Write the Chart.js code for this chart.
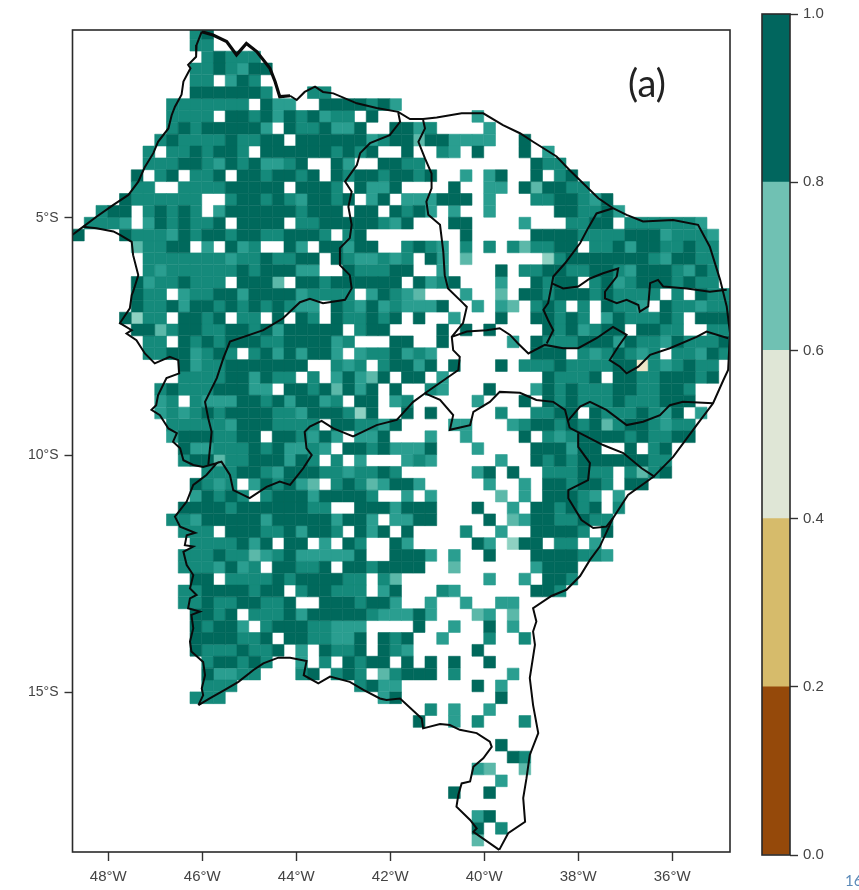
<!DOCTYPE html>
<html>
<head>
<meta charset="utf-8">
<title>Map (a)</title>
<script src="https://cdn.jsdelivr.net/npm/chart.js@4"></script>
<style>
  html, body { margin: 0; padding: 0; background: #fff; width: 859px; height: 890px; overflow: hidden; }
  canvas { position: absolute; top: 0; filter: blur(0.5px); }
  #map { left: 0; }
  #bar { left: 750px; }
  #panel { position: absolute; left: 628px; top: 59px; font: 38px Lato, sans-serif; color: #222; }
  #page { position: absolute; left: 845px; top: 871px; font: 15px Lato, sans-serif; color: #5b8ab8; }
</style>
</head>
<body>
<canvas id="map" width="859" height="890"></canvas>
<canvas id="bar" width="109" height="890"></canvas>
<div id="panel">(a)</div>
<div id="page">16</div>
<script>
// grid cells, one string per row (north to south), a char per 0.25 deg cell, blocks of 10 columns
const cellRows = [
  ".......... md",
  ".......... mm",
  ".......... .mdmmm",
  ".......... mmdmtdd",
  ".......... mm.tdm.",
  ".......... ddddddm... mm",
  "........mm mmmmm.dtt. .ddddmdt",
  "........mm mm.ddmdtdm dtmm.d.... ....t",
  "........md mdddddt.dm mdttd..ddt m....t",
  ".......mdm mmmdmmdd.d dddddtmddl ddtttt..d.",
  "......m.mm dmddm.dddd ddmdmd..d. .mt.d...d. t",
  "......mmmd dmtdmdttmd ..dt..ddmm .........d mm",
  ".....d.md. mmd.ddmddm d.dmddmddm d..t.td..d .md",
  ".....mm..m mmmddddd.d ddm.dttd.. ..d..tt.dl ddmm",
  "....dmmmmm m..mddmdmt ddmd.td.tt tddd.t...m mddmtd",
  "..mdd.mdmd m.tddddddm ddd.dd.dmd t.t..t.... .ddmmdt",
  ".mmmt.tdmd mmd.dddd.m mdddddmtd. ..dd....t. ..mmdd.mmm mmmt",
  "d...dmmmtd mddmddmmdd dm.md..... ...d.....d dddmmmmddd tmmmt",
  ".....lmmdd .t.dtm..dt .ddtdd..md mt.m.m.mlm mdd.mmdtdd mmdmm",
  "......mmmm mmmtmmdmmd d.dmttmtm. dt.l...... pmdddddddm tddmm",
  "......mtmm mmmmdmdddt t..dmmmdd. .t....d.mm ddmmddmtdd dmtdm",
  ".....dtmmd mmm.dddl.d dmdddddd.d tmd...t..d mdd.mdtmdd dmdmm",
  ".....dmm.t mmddtddddt mmmm.tdmtl ...t..l.dd mdddmdmmmm .m.dmm",
  ".....dmmdt ddmdmdmdmt t.dmtdtmtt td..t.tl.m dm.m.dmmt. dmmtmm",
  "....dpmm.d dmd.mm.d.d m.dmmdmd.d ..t...d..d dmdm.tdmmm dm.ddd",
  ".....ddlmd dmmddmdtdd ddd.mdd... .d.d.d.... dmdtmdd.dd mm..mm",
  "......mm.d mdmdddmmdd ddtm...dd. .d.....t.d mmmdddtdmm tdmmmd",
  "......mmdd tmdm.mdtdt ddt.tmmdtm t........d dd.mtmdmtm .mmtdm",
  ".........d tmmddddddd ..mtm.mddt d.d...d.mm mdmmmmddcm tmdmm",
  ".........m mmmddtdmm. m.tdtld.dd .t........ dmmmd.ddmm dddmd",
  ".......mdm mmdddtt.dd mdldtd.d.. mt...d...t dmdmmmddmm ddm",
  ".......tm. mtttddmdtd dtm.dd.tm. ....t...d. dmdmmmdmmm ddd",
  ".......tmt mdmddddmmt dddmpd..d. d.....m..m mdd.dmmmdm td.t",
  "........mm mmmtdddmmm m.ddmmtd.. ..tt...tmd dmdmdlmddm tmm",
  "........td ddmmdd.ddm tdt.ttd... t..t....d. mtmddddmdm mdd",
  ".........d ttmmmdmdtt mt.ddmdttt d...t....d ddtdd..d.m d.",
  ".........m ddlmmdddtd m.m.t...tm t.....t..d mdmddddddm m",
  ".......... .mmmddmtdd dmmtmmdm.. ....td.d.. mmmdmm.mlm d",
  ".......... dmtm.tdmdt l.mdmltddt .....t..t. ddmddm.dd",
  ".......... tdmdm.mddd tddddm..t. t.....l.t. dddmt.t",
  ".........d dddmdddddd mm..dddtdd d...d..t.d dmdmd.m",
  "........mm tdddddtddd ddtddt.ttd d....d.ltd dmmdmm",
  ".........m mm.dddmmdt ddm.dtd.d. ...m..t..d dddm.d",
  ".......... mmmmdtd.dd .t.dm..dt. ....dt.pdd .mm.t",
  ".........m mmdmmltmdt ttttd..ddd t.t..d...d dddmmt",
  ".........m mmtdtm.ddm md.ddmdddd ..l......t ddd",
  ".......... dd.mmmmdmd dddmm.ml.. .....t..t. ddm",
  ".........m mddddmdd.m ddmmm.td.. .mt......d dm",
  ".........m mdmmddmmd. .dddmddt.. t..t..tt",
  ".......... ddmd.mmmdt dddddmtttd t...lt.l",
  ".......... dmddt.mddd mmttt....d ..t..d.t",
  ".......... ddddmmd.dd mmttd.dmd. .t...m..m",
  ".......... dmmmdmmd.t .dmmd.dmt. ....d",
  ".......... .mddmdm..t .m.dmdd.d. d.d..d",
  ".......... .dttmm...m d.mdm.lmdd d.m....t",
  ".......... .mmm...... ....mdtt.. ....d.t",
  ".......... mmm....... ......td.. ......d",
  ".......... .......... .......... m.t..t",
  ".......... .......... .........d ..t.m...m",
  "",
  ".......... .......... .......... ......d",
  ".......... .......... .......... .......dm",
  ".......... .......... .......... ....tl..l",
  ".......... .......... .......... ......t",
  ".......... .......... .......... ..d..d",
  "",
  ".......... .......... .......... ....td",
  ".......... .......... .......... ....d.m",
  ".......... .......... .......... ....l"
];
const firstCellLon = -48.76;
const firstCellLat = -0.99;
const cellStep = 0.25;

const xTicks = [-48, -46, -44, -42, -40, -38, -36];
const yTicks = [-15, -10, -5];

const barLabels = ['0.0-0.2', '0.2-0.4', '0.4-0.6', '0.6-0.8', '0.8-1.0'];
const barValues = [0.2, 0.2, 0.2, 0.2, 0.2];

// borders as [lon, lat]
const outerBorder = [
  [-46.01,-1.08],[-46.12,-1.36],[-46.13,-1.61],[-46.30,-1.78],[-46.25,-1.85],[-46.40,-2.13],[-46.44,-2.41],[-46.58,-2.66],
  [-46.65,-2.84],[-46.72,-3.12],[-46.94,-3.40],[-47.04,-3.64],[-47.22,-3.93],[-47.36,-4.24],[-47.57,-4.52],[-47.89,-4.73],
  [-48.25,-4.98],[-48.60,-5.24],[-48.76,-5.36]
];
const westBorder = [
  [-48.54,-5.19],[-48.25,-5.22],[-47.89,-5.29],[-47.75,-5.36],[-47.50,-5.51],[-47.47,-5.79],[-47.36,-6.21],[-47.47,-6.56],
  [-47.50,-6.63],[-47.54,-6.91],[-47.75,-7.22],[-47.50,-7.37],[-47.61,-7.44],[-47.40,-7.58],[-47.22,-7.86],[-47.01,-8.07],
  [-46.69,-7.93],[-46.51,-8.00],[-46.49,-8.28],[-46.76,-8.38],[-46.94,-8.74],[-46.98,-8.95],[-47.08,-9.05],[-46.90,-9.16],
  [-46.72,-9.44],[-46.54,-9.54],[-46.62,-9.72],[-46.47,-9.86],[-46.40,-10.11],[-46.19,-10.21],[-45.98,-10.25],[-45.69,-10.17],
  [-45.91,-10.42],[-46.19,-10.63],[-46.33,-10.98],[-46.58,-11.30],[-46.47,-11.51],[-46.15,-11.64],[-46.33,-11.69],[-46.37,-11.90],
  [-46.19,-11.93],[-46.40,-12.04],[-46.33,-12.32],[-46.19,-12.53],[-46.26,-12.81],[-46.12,-12.95],[-46.26,-13.02],[-46.30,-13.23],
  [-46.05,-13.30],[-46.23,-13.37],[-46.19,-13.65],[-46.26,-13.93],[-46.23,-14.14],[-45.98,-14.36],[-45.94,-14.64],[-46.01,-14.92],
  [-45.98,-15.06],[-46.08,-15.27]
];
const southBorder = [
  [-46.08,-15.27],[-45.84,-15.13],[-45.52,-14.95],[-45.23,-14.78],[-44.91,-14.53],[-44.70,-14.39],[-44.38,-14.27],[-44.13,-14.27],
  [-43.78,-14.34],[-43.84,-14.64],[-43.53,-14.81],[-43.28,-14.67],[-42.86,-14.78],[-42.57,-14.95],[-42.22,-15.13],[-42.08,-15.16],
  [-41.79,-15.13],[-41.33,-15.55],[-41.30,-15.76],[-40.94,-15.67],[-40.73,-15.69],[-40.52,-15.79],[-40.16,-15.86],[-39.88,-16.04],
  [-39.84,-16.15],[-40.02,-16.39],[-40.23,-16.57],[-40.30,-16.88],[-40.48,-16.92],[-40.55,-17.16],[-40.59,-17.41],[-40.30,-17.69],
  [-40.16,-17.87],[-40.23,-17.94],[-39.68,-18.32]
];
const eastCoast = [
  [-39.68,-18.32],[-39.49,-17.97],[-39.13,-17.73],[-39.17,-17.23],[-39.10,-16.81],[-39.03,-16.32],[-38.85,-15.86],[-38.96,-15.27],
  [-39.03,-14.70],[-38.92,-14.00],[-38.96,-13.72],[-38.89,-13.51],[-38.96,-13.23],[-38.57,-12.97],[-38.25,-12.84],[-37.96,-12.55],
  [-37.75,-12.21],[-37.54,-11.93],[-37.26,-11.33],[-36.94,-10.84],[-36.40,-10.46],[-35.98,-10.04],[-35.48,-9.37],[-35.13,-8.91],
  [-34.91,-8.42],[-34.81,-8.21],[-34.77,-7.43],[-34.84,-6.87],[-34.98,-6.31],[-35.20,-5.61],[-35.45,-5.15],[-35.98,-5.05],
  [-36.62,-5.08],[-36.97,-4.94],[-37.26,-4.80]
];
const northCoast = [
  [-37.26,-4.80],[-37.57,-4.59],[-38.18,-4.00],[-38.46,-3.71],[-38.96,-3.40],[-39.24,-3.22],[-39.60,-3.05],[-40.02,-2.80],
  [-40.48,-2.80],[-41.01,-2.89],[-41.30,-2.92],[-41.58,-2.92],[-41.83,-2.77],[-42.29,-2.69],[-42.71,-2.59],[-43.21,-2.38],
  [-43.43,-2.35],[-43.60,-2.24],[-43.82,-2.35],[-43.99,-2.52],[-44.13,-2.43]
];
const bayCoast = [
  [-44.13,-2.43],[-44.35,-2.45],[-44.45,-2.13],[-44.56,-1.85],[-44.84,-1.50],[-45.06,-1.33],[-45.27,-1.57],[-45.48,-1.29],
  [-45.77,-1.15],[-46.01,-1.08]
];
const maPiLine = [
  [-41.83,-2.78],[-41.79,-2.98],[-42.01,-3.26],[-42.43,-3.43],[-42.64,-3.64],[-42.71,-3.89],[-42.96,-4.24],[-42.82,-4.45],
  [-42.89,-4.77],[-42.82,-5.15],[-42.86,-5.43],[-43.07,-5.64],[-43.07,-6.00],[-42.86,-6.21],[-42.82,-6.49],[-42.96,-6.73],
  [-43.43,-6.80],[-43.71,-6.71],[-43.92,-6.78],[-44.28,-7.12],[-44.70,-7.37],[-45.41,-7.61],[-45.55,-7.96],[-45.69,-8.38],
  [-45.94,-8.88],[-45.87,-9.23],[-45.80,-9.51],[-45.87,-10.21]
];
const bahiaLine = [
  [-45.69,-10.17],[-45.59,-10.14],[-45.41,-10.42],[-45.34,-10.74],[-44.99,-10.91],[-44.63,-10.67],[-44.35,-10.56],[-44.13,-10.63],
  [-43.85,-10.28],[-43.67,-10.00],[-43.78,-9.86],[-43.82,-9.51],[-43.71,-9.40],[-43.46,-9.28],[-43.21,-9.44],[-42.79,-9.61],
  [-42.29,-9.37],[-41.86,-9.26],[-41.51,-8.88],[-41.26,-8.70],[-40.94,-8.84],[-40.66,-9.16],[-40.73,-9.47],[-40.30,-9.37],
  [-40.23,-9.09],[-39.88,-8.88],[-39.67,-8.67],[-39.24,-8.69],[-38.89,-8.84],[-38.53,-8.88],[-38.28,-9.05],[-38.18,-9.43]
];
const piCeLine = [
  [-41.30,-2.94],[-41.26,-3.12],[-41.40,-3.40],[-41.26,-3.75],[-41.12,-4.07],[-41.12,-4.38],[-41.23,-4.66],[-41.19,-4.94],
  [-40.94,-5.15],[-40.87,-5.72],[-40.84,-6.21],[-40.77,-6.49],[-40.45,-6.80],[-40.37,-6.88],[-40.45,-7.22],[-40.69,-7.51],
  [-40.66,-7.79],[-40.52,-7.93],[-40.55,-8.21],[-41.26,-8.70]
];
const peNorthLine = [
  [-40.69,-7.51],[-40.37,-7.40],[-39.95,-7.37],[-39.67,-7.33],[-39.45,-7.47],[-39.28,-7.65],[-39.06,-7.86],[-38.71,-7.68],
  [-38.32,-7.75],[-38.00,-7.75],[-37.61,-7.54],[-37.26,-7.30],[-36.97,-7.47],[-37.15,-7.72],[-37.33,-8.00],[-37.11,-8.14],
  [-36.97,-8.28],[-36.72,-8.14],[-36.47,-7.89],[-36.05,-7.75],[-35.48,-7.51],[-35.27,-7.40],[-34.81,-7.54]
];
const ceRnLine = [
  [-37.26,-4.80],[-37.61,-4.91],[-37.79,-5.22],[-37.96,-5.54],[-38.28,-5.96],[-38.53,-6.24],[-38.57,-6.45],[-38.64,-6.80],
  [-38.74,-6.94],[-38.64,-7.16],[-38.53,-7.37],[-38.67,-7.65]
];
const rnPbLine = [
  [-38.57,-6.38],[-38.32,-6.49],[-38.00,-6.45],[-37.75,-6.28],[-37.47,-6.17],[-37.15,-6.07],[-37.18,-6.24],[-37.43,-6.56],
  [-37.43,-6.70],[-37.18,-6.80],[-36.97,-6.73],[-36.72,-6.84],[-36.69,-6.98],[-36.51,-6.87],[-36.47,-6.38],[-36.30,-6.31],
  [-36.19,-6.45],[-35.69,-6.49],[-35.20,-6.56],[-34.84,-6.52]
];
const alagoasLine = [[-38.18,-9.43],[-37.47,-9.79],[-37.04,-9.96],[-36.65,-10.28],[-36.37,-10.46]];
const peSouthLine = [
  [-38.22,-9.28],[-37.96,-8.98],[-37.75,-8.88],[-37.40,-9.05],[-36.97,-9.37],[-36.62,-9.30],[-36.26,-9.16],[-36.05,-8.95],
  [-35.77,-8.88],[-35.13,-8.91]
];
const sergipeLine = [
  [-38.00,-9.54],[-38.00,-9.83],[-37.75,-10.17],[-37.79,-10.53],[-38.21,-10.74],[-38.21,-10.91],[-37.93,-11.37],[-37.68,-11.54],
  [-37.40,-11.51],[-37.26,-11.33]
];

const shadeColors = { d: '#00695c', m: '#158a7b', t: '#2a9e90', l: '#5bb8a9', p: '#8ed1c2', c: '#f0e6c8' };
const fontFamily = 'Liberation Sans, Arial, sans-serif';
const inkColor = '#444';

const frame = {
  id: 'frame',
  afterDatasetsDraw(chart) {
    const { ctx, chartArea: a } = chart;
    ctx.save();
    ctx.strokeStyle = '#2a2a2a';
    ctx.lineWidth = 1.6;
    ctx.strokeRect(a.left, a.top, a.right - a.left, a.bottom - a.top);
    ctx.restore();
  }
};

function cellDatasets() {
  const points = {};
  Object.keys(shadeColors).forEach(k => { points[k] = []; });
  cellRows.forEach((row, r) => {
    row.replace(/ /g, '').split('').forEach((ch, c) => {
      if (points[ch]) {
        points[ch].push({ x: firstCellLon + cellStep * (c + 0.5), y: firstCellLat - cellStep * (r + 0.5) });
      }
    });
  });
  return Object.keys(points).map(k => ({
    data: points[k],
    pointStyle: 'rect',
    pointRadius: 8.3,
    pointBorderWidth: 0.6,
    pointBackgroundColor: shadeColors[k],
    pointBorderColor: shadeColors[k],
    order: 2
  }));
}

const borders = [outerBorder, westBorder, southBorder, eastCoast, northCoast, bayCoast, maPiLine, bahiaLine,
  piCeLine, peNorthLine, ceRnLine, rnPbLine, alagoasLine, peSouthLine, sergipeLine];

function borderDatasets() {
  return borders.map(line => ({
    data: line.map(p => ({ x: p[0], y: p[1] })),
    showLine: true,
    borderColor: '#0a0a0a',
    borderWidth: line === bayCoast ? 3.2 : 2,
    pointRadius: 0,
    tension: 0,
    order: 1
  }));
}

new Chart(document.getElementById('map'), {
  type: 'scatter',
  data: { datasets: cellDatasets().concat(borderDatasets()) },
  plugins: [frame],
  options: {
    responsive: false,
    animation: false,
    events: [],
    layout: { padding: { top: 30, right: 129, bottom: 0, left: 0 } },
    plugins: { legend: { display: false }, tooltip: { enabled: false } },
    scales: {
      x: {
        type: 'linear',
        min: -48.76,
        max: -34.77,
        afterFit(s) { s.height = 38; },
        afterBuildTicks(s) { s.ticks = xTicks.map(v => ({ value: v })); },
        border: { display: false },
        grid: { drawOnChartArea: false, tickLength: 9, tickColor: '#333', tickWidth: 1.4 },
        ticks: {
          maxRotation: 0,
          padding: 7,
          color: inkColor,
          font: { family: fontFamily, size: 15 },
          callback: v => Math.abs(v) + '°W'
        }
      },
      y: {
        type: 'linear',
        min: -18.365,
        max: -1.045,
        afterFit(s) { s.width = 72.5; },
        afterBuildTicks(s) { s.ticks = yTicks.map(v => ({ value: v })); },
        border: { display: false },
        grid: { drawOnChartArea: false, tickLength: 8, tickColor: '#333', tickWidth: 1.4 },
        ticks: {
          padding: 6,
          color: inkColor,
          font: { family: fontFamily, size: 14 },
          callback: v => Math.abs(v) + '°S'
        }
      }
    }
  }
});

const barColors = ['#95490a', '#d6bb6b', '#dfe6d6', '#70c1b3', '#01665e'];

new Chart(document.getElementById('bar'), {
  type: 'bar',
  data: {
    labels: [''],
    datasets: barValues.map((v, i) => ({
      label: barLabels[i],
      data: [v],
      backgroundColor: barColors[i],
      barPercentage: 1,
      categoryPercentage: 1
    }))
  },
  plugins: [frame],
  options: {
    responsive: false,
    animation: false,
    events: [],
    layout: { padding: { top: 11, left: 12, bottom: 35, right: 0 } },
    plugins: { legend: { display: false }, tooltip: { enabled: false } },
    scales: {
      x: { stacked: true, display: false },
      y: {
        stacked: true,
        position: 'right',
        min: 0,
        max: 1,
        afterFit(s) { s.width = 69; },
        border: { display: false },
        grid: { drawOnChartArea: false, tickLength: 8, tickColor: '#333', tickWidth: 1.4 },
        ticks: {
          stepSize: 0.2,
          padding: 5,
          color: inkColor,
          font: { family: fontFamily, size: 15 },
          callback: v => v.toFixed(1)
        }
      }
    }
  }
});
</script>
</body>
</html>
